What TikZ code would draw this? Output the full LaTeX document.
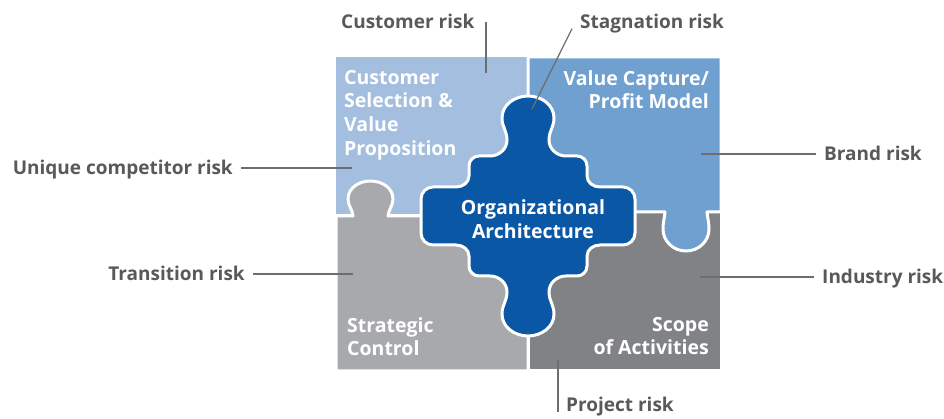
\documentclass[tikz,border=0pt]{standalone}
\usepackage{fontspec}
\setmainfont{Open Sans}
\usetikzlibrary{positioning}
\definecolor{paleblue}{HTML}{A3BEDF}
\definecolor{midblue}{HTML}{70A0CF}
\definecolor{deepblue}{HTML}{0A58A5}
\definecolor{lightgrey}{HTML}{A7A9AC}
\definecolor{darkgrey}{HTML}{808285}
\definecolor{inkgrey}{HTML}{58595B}
\definecolor{linegrey}{HTML}{6D6E71}

\begin{document}
\begin{tikzpicture}[x=1pt,y=1pt,
  lbl/.style={font=\bfseries\fontsize{19}{22}\selectfont,text=inkgrey,inner xsep=8pt,inner ysep=0pt,text height=13pt,text depth=0pt},
  inner/.style={font=\bfseries\fontsize{19.5}{23.6}\selectfont,text=white,inner sep=0pt},
  lead/.style={draw=linegrey,line width=1.3pt},
  piece/.style={draw=white,line width=3pt,line join=round}]
\useasboundingbox (0,0) rectangle (944,419);

% four quarters of the square
\fill[paleblue] (336,205) rectangle (528,362);
\path[piece,fill=lightgrey] (336,48) -- (336,203) -- (353,203) to[out=95,in=-90] (348,220)
  to[out=90,in=180] (370.5,238) to[out=0,in=90] (393,220) to[out=-90,in=85] (388,203)
  -- (528,203) -- (528,48) -- cycle;
\path[piece,fill=darkgrey] (528,48) rectangle (721,207);
\path[piece,fill=midblue] (528,362) -- (528,207) -- (665,207) to[out=-95,in=90] (663,190)
  to[out=-90,in=180] (686,168) to[out=0,in=-90] (709,190) to[out=90,in=-85] (707,207)
  -- (721,207) -- (721,362) -- cycle;

% centre piece
\begin{scope}[shift={(528,203)}]
\path[piece,fill=deepblue] (0,120) to[out=0,in=90] (26,98) to[out=-90,in=90] (21,76)
  to[out=-90,in=180] (38,60) -- (49,60) to[out=0,in=90] (59,50) -- (59,40)
  to[out=-90,in=180] (72,29) -- (95,29) to[out=0,in=90] (107,17) -- (107,-17)
  to[out=-90,in=0] (95,-29) -- (72,-29) to[out=180,in=90] (59,-40) -- (59,-50)
  to[out=-90,in=0] (49,-60) -- (38,-60) to[out=180,in=90] (21,-76)
  to[out=-90,in=90] (26,-98) to[out=-90,in=0] (0,-120)
  to[out=180,in=-90] (-26,-98) to[out=90,in=-90] (-21,-76) to[out=90,in=0] (-38,-60)
  -- (-49,-60) to[out=180,in=-90] (-59,-50) -- (-59,-40) to[out=90,in=0] (-72,-29)
  -- (-95,-29) to[out=180,in=-90] (-107,-17) -- (-107,17)
  to[out=90,in=180] (-95,29) -- (-72,29) to[out=0,in=-90] (-59,40) -- (-59,50)
  to[out=90,in=180] (-49,60) -- (-38,60) to[out=0,in=-90] (-21,76)
  to[out=90,in=-90] (-26,98) to[out=90,in=180] (0,120) -- cycle;
\end{scope}

% texts on the pieces
\node[inner,align=center] (org) at (533,200) {Organizational\\Architecture};
\node[inner,align=left,anchor=north west] (csv) at (344,349) {Customer\\Selection \&\\Value\\Proposition};
\node[inner,align=right,anchor=north east] (vcp) at (709,349) {Value Capture/\\Profit Model};
\node[inner,align=left,anchor=north west] (sc) at (347,102) {Strategic\\Control};
\node[inner,align=right,anchor=north east] (soa) at (709,102) {Scope\\of Activities};

% risks around the square
\node[lbl,anchor=west] (cr) at (333,397) {Customer risk};
\node[lbl,anchor=west] (sr) at (572,397) {Stagnation risk};
\node[lbl,anchor=east] (ucr) at (241,251) {Unique competitor risk};
\node[lbl,anchor=east] (tr) at (253,145) {Transition risk};
\node[lbl,anchor=west] (br) at (816,265) {Brand risk};
\node[lbl,anchor=west] (ir) at (814,142) {Industry risk};
\node[lbl,anchor=west] (pr) at (558,14) {Project risk};

\coordinate (cr-end) at (486,346);
\coordinate (sr-end) at (532,310);
\coordinate (ucr-end) at (352,251);
\coordinate (tr-end) at (353,145);
\coordinate (br-end) at (701,265);
\coordinate (ir-end) at (700,142);
\coordinate (pr-end) at (558,59);

\draw[lead] (cr-end |- cr.center) -- (cr-end);
\draw[lead] (sr.south west) -- (sr-end);
\draw[lead] (ucr) -- (ucr-end);
\draw[lead] (tr) -- (tr-end);
\draw[lead] (br-end) -- (br);
\draw[lead] (ir-end) -- (ir);
\draw[lead] (pr-end) -- (pr-end |- pr.south);
\end{tikzpicture}
\end{document}
